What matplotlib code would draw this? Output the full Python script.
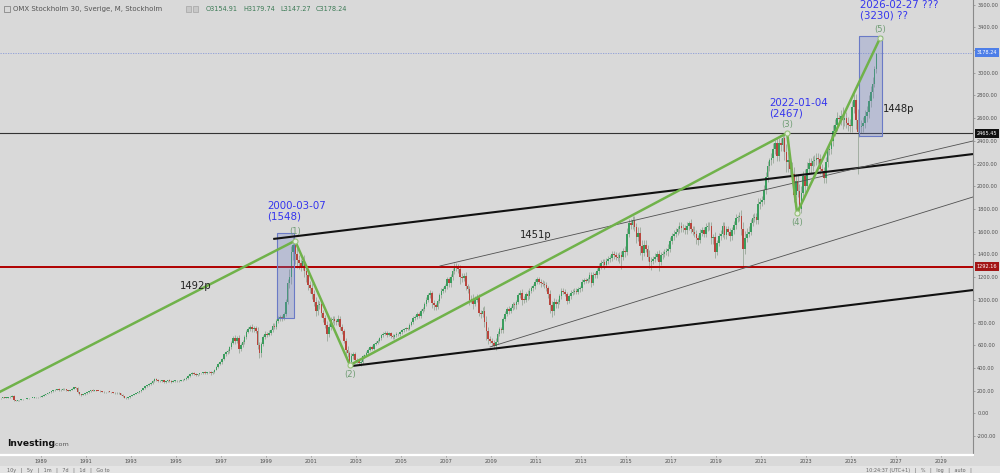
import numpy as np
import matplotlib.pyplot as plt
from matplotlib.patches import Rectangle

# === DATA (OMX Stockholm 30, monthly) ===
first_year = 1987
first_open = 125
closes = [
    128, 132, 136, 138, 137, 139, 141, 146, 156, 118, 110, 114,   # 1987
    119, 123, 126, 129, 132, 134, 136, 137, 140, 142, 144, 147,   # 1988
    156, 164, 172, 179, 186, 193, 202, 209, 214, 205, 209, 215,   # 1989
    211, 204, 199, 206, 216, 229, 224, 188, 170, 163, 168, 176,   # 1990
    186, 196, 206, 201, 205, 199, 198, 194, 190, 186, 188, 192,   # 1991
    189, 186, 181, 178, 183, 176, 164, 150, 139, 134, 142, 152,   # 1992
    161, 170, 181, 186, 196, 206, 221, 239, 246, 259, 268, 281,   # 1993
    301, 296, 281, 285, 291, 276, 281, 291, 284, 279, 286, 289,   # 1994
    285, 289, 291, 296, 301, 311, 329, 344, 354, 346, 340, 346,   # 1995
    351, 356, 361, 354, 360, 366, 351, 366, 386, 411, 431, 452,   # 1996
    481, 519, 541, 546, 582, 621, 660, 640, 664, 568, 598, 632,   # 1997
    671, 719, 741, 762, 739, 751, 729, 602, 531, 612, 671, 702,   # 1998
    691, 712, 731, 771, 762, 811, 836, 845, 842, 871, 981, 1151,  # 1999
    1201, 1421, 1480, 1401, 1352, 1321, 1302, 1341, 1251, 1221, 1131, 1102,  # 2000
    1051, 982, 901, 951, 961, 881, 841, 779, 702, 761, 821, 832,  # 2001
    811, 801, 831, 761, 721, 641, 561, 531, 452, 501, 521, 471,   # 2002
    461, 441, 452, 501, 511, 531, 561, 581, 571, 611, 621, 641,   # 2003
    661, 689, 701, 711, 691, 705, 681, 671, 689, 701, 699, 715,   # 2004
    731, 741, 749, 745, 781, 801, 839, 851, 879, 861, 899, 921,   # 2005
    961, 1001, 1041, 1059, 971, 951, 941, 991, 1041, 1081, 1091, 1121,  # 2006
    1181, 1151, 1201, 1251, 1301, 1281, 1271, 1201, 1191, 1211, 1121, 1091,  # 2007
    1001, 1011, 961, 1001, 1021, 881, 879, 901, 801, 721, 651, 641,  # 2008
    621, 591, 631, 701, 741, 731, 831, 871, 921, 901, 931, 961,   # 2009
    951, 981, 1041, 1061, 1001, 999, 1051, 1031, 1081, 1101, 1121, 1161,  # 2010
    1181, 1161, 1151, 1141, 1131, 1101, 1051, 951, 901, 981, 961, 981,  # 2011
    1031, 1081, 1071, 1051, 991, 1031, 1061, 1071, 1081, 1071, 1091, 1101,  # 2012
    1161, 1171, 1169, 1181, 1221, 1151, 1221, 1219, 1251, 1301, 1321, 1331,  # 2013
    1311, 1341, 1361, 1371, 1401, 1391, 1381, 1369, 1391, 1381, 1431, 1421,  # 2014
    1581, 1681, 1661, 1701, 1641, 1551, 1591, 1471, 1411, 1481, 1451, 1381,  # 2015
    1331, 1341, 1361, 1381, 1401, 1331, 1391, 1401, 1421, 1431, 1451, 1521,  # 2016
    1561, 1581, 1601, 1621, 1651, 1631, 1629, 1611, 1651, 1681, 1621, 1601,  # 2017
    1581, 1541, 1531, 1591, 1611, 1581, 1641, 1651, 1649, 1541, 1551, 1421,  # 2018
    1501, 1561, 1581, 1651, 1571, 1621, 1601, 1561, 1611, 1661, 1721, 1731,  # 2019
    1741, 1621, 1451, 1541, 1581, 1601, 1681, 1721, 1731, 1701, 1841, 1861,  # 2020
    1881, 1971, 2081, 2181, 2231, 2251, 2331, 2381, 2271, 2381, 2361, 2421,  # 2021
    2301, 2211, 2231, 2151, 2111, 1921, 2051, 1961, 1801, 1941, 2091, 2001,  # 2022
    2151, 2201, 2181, 2221, 2231, 2251, 2241, 2151, 2131, 2071, 2211, 2321,  # 2023
    2331, 2401, 2491, 2541, 2601, 2591, 2621, 2581, 2601, 2561, 2541, 2531,  # 2024
    2701, 2761, 2581, 2481, 2521, 2531, 2561, 2621, 2651, 2751, 2831, 2901,  # 2025
    3031, 3178,                                                   # 2026
]
# wick length above / below the body, in percent
hi_pct = [
    2, 2, 1, 2, 2, 1, 2, 3, 2, 4, 3, 2,
    2, 1, 2, 1, 2, 1, 2, 1, 2, 2, 1, 2,
    2, 2, 1, 2, 2, 1, 2, 2, 1, 3, 2, 2,
    2, 2, 2, 1, 2, 3, 3, 2, 2, 2, 2, 2,
    2, 2, 1, 3, 2, 2, 1, 2, 1, 2, 1, 2,
    2, 1, 2, 2, 1, 2, 2, 2, 3, 3, 2, 2,
    2, 2, 1, 2, 2, 1, 2, 2, 3, 2, 2, 3,
    2, 3, 2, 3, 2, 2, 2, 2, 3, 2, 2, 2,
    2, 2, 1, 2, 2, 2, 2, 1, 2, 2, 2, 1,
    2, 1, 2, 3, 2, 2, 2, 2, 1, 2, 2, 2,
    2, 3, 2, 3, 2, 2, 3, 4, 2, 4, 3, 2,
    3, 2, 3, 2, 3, 2, 3, 4, 5, 3, 3, 3,
    2, 3, 2, 3, 3, 2, 3, 2, 3, 2, 3, 3,
    6, 4, 5, 4, 4, 3, 3, 3, 4, 4, 3, 3,
    4, 3, 4, 5, 3, 4, 3, 3, 4, 4, 3, 3,
    3, 3, 4, 3, 3, 3, 4, 5, 4, 6, 4, 3,
    3, 4, 3, 3, 2, 3, 2, 2, 3, 2, 2, 2,
    2, 2, 2, 2, 2, 2, 2, 2, 2, 2, 1, 2,
    2, 2, 2, 2, 2, 2, 2, 2, 2, 2, 2, 2,
    2, 2, 2, 3, 2, 3, 2, 2, 2, 2, 2, 2,
    2, 2, 2, 2, 2, 2, 3, 3, 3, 2, 3, 2,
    3, 3, 4, 3, 3, 3, 3, 4, 5, 7, 5, 4,
    4, 4, 5, 3, 3, 3, 2, 3, 2, 3, 2, 2,
    2, 2, 2, 2, 3, 3, 2, 3, 2, 2, 2, 2,
    2, 2, 2, 2, 2, 2, 2, 3, 4, 4, 3, 3,
    2, 2, 2, 2, 2, 2, 2, 2, 2, 2, 2, 2,
    2, 2, 2, 2, 2, 2, 2, 2, 2, 2, 2, 2,
    2, 2, 2, 2, 2, 2, 2, 2, 2, 3, 2, 3,
    3, 2, 2, 2, 2, 2, 3, 3, 4, 3, 3, 2,
    4, 3, 2, 2, 2, 3, 2, 2, 2, 2, 3, 2,
    2, 2, 2, 2, 2, 2, 2, 2, 2, 1, 2, 2,
    3, 2, 2, 2, 2, 2, 2, 2, 2, 2, 2, 3,
    2, 2, 2, 2, 2, 2, 2, 2, 2, 2, 2, 1,
    2, 3, 4, 4, 3, 3, 2, 2, 2, 2, 3, 2,
    2, 2, 2, 2, 1, 2, 2, 1, 2, 2, 2, 2,
    2, 3, 3, 2, 3, 3, 3, 3, 3, 3, 2, 3,
    3, 2, 2, 2, 2, 2, 2, 2, 2, 2, 2, 2,
    2, 2, 2, 2, 2, 1, 2, 3, 2, 2, 2, 2,
    2, 2, 2, 4, 2, 2, 2, 2, 2, 2, 2, 2,
    1, 0,
]
lo_pct = [
    2, 1, 2, 1, 2, 1, 2, 2, 2, 10, 4, 3,
    2, 2, 1, 2, 1, 2, 1, 2, 1, 2, 2, 1,
    2, 1, 2, 2, 1, 2, 2, 1, 2, 3, 2, 1,
    2, 3, 2, 2, 1, 2, 3, 5, 4, 4, 3, 2,
    3, 2, 2, 2, 1, 2, 2, 2, 2, 2, 2, 2,
    2, 2, 2, 2, 2, 2, 3, 4, 5, 4, 3, 2,
    2, 2, 1, 2, 2, 2, 1, 2, 2, 2, 2, 2,
    2, 3, 3, 2, 2, 3, 2, 2, 2, 3, 2, 2,
    2, 2, 2, 2, 1, 2, 2, 2, 2, 2, 3, 2,
    2, 2, 2, 2, 2, 2, 3, 2, 2, 2, 2, 2,
    3, 2, 2, 3, 2, 2, 2, 4, 3, 6, 3, 3,
    3, 2, 2, 2, 3, 3, 3, 6, 8, 7, 3, 3,
    3, 2, 3, 2, 3, 2, 2, 3, 3, 2, 2, 2,
    4, 5, 5, 6, 5, 4, 4, 3, 4, 5, 4, 4,
    4, 4, 5, 4, 3, 4, 4, 4, 9, 4, 3, 3,
    4, 3, 3, 3, 3, 4, 8, 6, 4, 8, 4, 4,
    4, 4, 5, 3, 3, 2, 2, 2, 3, 2, 2, 2,
    2, 2, 3, 2, 3, 2, 3, 2, 2, 2, 2, 2,
    2, 2, 2, 2, 2, 2, 2, 2, 2, 2, 2, 2,
    2, 2, 2, 2, 4, 4, 3, 2, 2, 2, 2, 2,
    2, 3, 3, 2, 2, 2, 3, 5, 3, 2, 3, 3,
    5, 3, 4, 2, 2, 3, 4, 3, 5, 10, 6, 4,
    5, 4, 5, 3, 3, 3, 3, 2, 2, 3, 2, 2,
    3, 3, 2, 2, 5, 3, 2, 3, 2, 2, 2, 2,
    2, 2, 3, 2, 2, 2, 3, 7, 6, 4, 3, 3,
    2, 2, 2, 2, 3, 2, 2, 2, 2, 2, 2, 2,
    2, 2, 2, 2, 2, 3, 2, 2, 2, 2, 2, 2,
    3, 2, 2, 2, 2, 2, 2, 2, 3, 8, 2, 3,
    2, 2, 2, 2, 2, 3, 2, 5, 4, 2, 2, 3,
    4, 5, 2, 2, 2, 6, 2, 2, 2, 2, 3, 2,
    2, 2, 2, 2, 2, 2, 2, 2, 2, 2, 2, 2,
    2, 3, 3, 2, 2, 2, 2, 2, 2, 3, 3, 4,
    2, 2, 2, 2, 2, 2, 2, 3, 2, 2, 2, 2,
    2, 3, 11, 3, 2, 2, 2, 2, 2, 2, 2, 2,
    2, 2, 2, 2, 2, 2, 2, 2, 2, 2, 2, 2,
    3, 4, 4, 3, 3, 3, 2, 3, 3, 2, 2, 3,
    2, 2, 3, 2, 2, 2, 2, 2, 2, 2, 2, 2,
    2, 2, 2, 2, 2, 2, 2, 3, 2, 2, 2, 2,
    2, 2, 3, 15, 2, 2, 2, 2, 2, 2, 2, 2,
    1, 1,
]

year_ticks = list(range(1989, 2030, 2))
price_ticks = list(range(-200, 3601, 200))

# Elliott waves (date as decimal year, value)
wave_dates = [1987.18, 2000.29, 2002.73, 2022.16, 2022.60, 2026.29]
wave_values = [190, 1520, 425, 2469, 1765, 3306]
wave_labels = ['', '(1)', '(2)', '(3)', '(4)', '(5)']
wave_offsets = [0, 7, -7, 6, -7, 6]

# trend channel lines
thick_dates = [(1999.32, 2030.42), (2002.82, 2030.42)]
thick_values = [(1536, 2284), (417, 1086)]
thin_dates = [(2006.73, 2030.42), (2008.96, 2030.42)]
thin_values = [(1298, 2399), (585, 1906)]

last_price = 3178.24
level_dark = 2465.45
level_red = 1292.16

box_dates = [(1999.49, 2000.24), (2025.36, 2026.38)]
box_values = [(840, 1589), (2443, 3324)]

# === LAYOUT ===
W, H = 1000, 473
BG = '#d9d9d9'
X0, X1 = 1987.178, 2030.42
Y0, Y1 = -367, 3641


def fx(px):
    return px / W


def fy(py):
    return 1 - py / H


assert len(closes) == len(hi_pct) == len(lo_pct)
n = len(closes)
t = first_year + (np.arange(n) + 0.5) / 12
c = np.array(closes, dtype=float)
o = np.concatenate([[first_open], c[:-1]])
top = np.maximum(o, c) * (1 + np.array(hi_pct) / 100)
bot = np.minimum(o, c) * (1 - np.array(lo_pct) / 100)

fig = plt.figure(figsize=(W / 100, H / 100), dpi=100, facecolor=BG)
ax = fig.add_axes([0, 18 / H, 973 / W, 455 / H])
ax.set_facecolor(BG)

# === CANDLES ===
up = c >= o
cols = np.where(up, '#3a9d5d', '#b8453d')
ax.vlines(t, bot, top, color='#a2aea2', lw=0.7, zorder=2)
ax.bar(t, np.maximum(np.abs(c - o), 4), bottom=np.minimum(o, c), width=0.072,
       color=cols, lw=0, zorder=3)

# === LEVELS ===
ax.axhline(level_dark, color='#333333', lw=0.8, zorder=4)
ax.axhline(level_red, color='#b00000', lw=1.4, zorder=4)
ax.axhline(last_price, color='#8a9ad8', lw=0.6, ls=(0, (1.5, 1.5)), zorder=4)

# === BOXES ===
for (d0, d1), (v0, v1) in zip(box_dates, box_values):
    ax.add_patch(Rectangle((d0, v0), d1 - d0, v1 - v0, fc='#7080c8', alpha=0.3,
                           ec='none', zorder=4))
    ax.add_patch(Rectangle((d0, v0), d1 - d0, v1 - v0, fc='none', ec='#6a7ac6',
                           lw=0.8, zorder=4))

# === CHANNELS ===
for d, v in zip(thick_dates, thick_values):
    ax.plot(d, v, color='#111111', lw=1.5, zorder=5, solid_capstyle='butt')
for d, v in zip(thin_dates, thin_values):
    ax.plot(d, v, color='#505050', lw=0.6, zorder=5)

# === WAVES ===
ax.plot(wave_dates, wave_values, color='#70b24a', lw=1.8, zorder=6)
ax.plot(wave_dates[1:], wave_values[1:], 'o', ms=3.6, mfc='#e4ecdc',
        mec='#98c27a', mew=0.8, zorder=7)
for d, v, lab, off in zip(wave_dates, wave_values, wave_labels, wave_offsets):
    if lab:
        ax.annotate(lab, (d, v), xytext=(0, off), textcoords='offset points',
                    ha='center', va='center', fontsize=6, color='#6e9c72', zorder=7)

# === AXES ===
ax.set_xlim(X0, X1)
ax.set_ylim(Y0, Y1)
for s in ['top', 'left']:
    ax.spines[s].set_visible(False)
ax.spines['bottom'].set_color('white')
ax.spines['bottom'].set_linewidth(1.6)
ax.spines['right'].set_color('#8a8a8a')
ax.spines['right'].set_linewidth(0.8)
ax.yaxis.tick_right()
ax.set_yticks(price_ticks)
ax.set_yticklabels([f'{v:.2f}' for v in price_ticks])
ax.set_xticks(year_ticks)
ax.set_xticklabels([str(y) for y in year_ticks])
ax.tick_params(axis='y', length=1.5, width=0.5, color='#888888', labelsize=3.6,
               labelcolor='#505050', pad=1.5)
ax.tick_params(axis='x', length=1.5, width=0.5, color='#888888', labelsize=3.6,
               labelcolor='#505050', pad=1.5)

# === PRICE TAGS ===
for val, bg in [(last_price, '#4d7ee8'), (level_dark, '#111111'), (level_red, '#a31515')]:
    ax.text(1.004, val, f'{val:.2f}', transform=ax.get_yaxis_transform(),
            ha='left', va='center', fontsize=3.6, color='white', zorder=10,
            clip_on=False,
            bbox=dict(boxstyle='square,pad=0.35', fc=bg, ec='none'))

# === TEXTS ===
blue = '#3535ee'
fig.text(fx(267), fy(206), '2000-03-07', color=blue, fontsize=7.4, va='center')
fig.text(fx(267), fy(216), '(1548)', color=blue, fontsize=7.4, va='center')
fig.text(fx(769), fy(103), '2022-01-04', color=blue, fontsize=7.4, va='center')
fig.text(fx(769), fy(113), '(2467)', color=blue, fontsize=7.4, va='center')
fig.text(fx(860), fy(5), '2026-02-27 ???', color=blue, fontsize=7.4, va='center')
fig.text(fx(860), fy(16), '(3230) ??', color=blue, fontsize=7.4, va='center')
fig.text(fx(180), fy(286), '1492p', color='#222222', fontsize=7.2, va='center')
fig.text(fx(520), fy(235), '1451p', color='#222222', fontsize=7.2, va='center')
fig.text(fx(883), fy(109), '1448p', color='#222222', fontsize=7.2, va='center')

# header
fig.patches.append(Rectangle((fx(4), fy(12)), 6 / W, 6 / H, fill=False, ec='#777777',
                             lw=0.5, transform=fig.transFigure))
fig.text(fx(13), fy(9), 'OMX Stockholm 30, Sverige, M, Stockholm', fontsize=5,
         color='#555555', va='center')
for px in (186, 193):
    fig.patches.append(Rectangle((fx(px), fy(12)), 5 / W, 6 / H, fc='#c8c8c8',
                                 ec='#9a9a9a', lw=0.4, transform=fig.transFigure))
for px, s in [(206, 'O3154.91'), (243, 'H3179.74'), (280, 'L3147.27'), (316, 'C3178.24')]:
    fig.text(fx(px), fy(9), s, fontsize=4.7, color='#3b7a55', va='center')

# logo
fig.text(fx(7), fy(443), 'Investing', fontsize=6.6, fontweight='bold',
         color='#111111', va='center')
fig.text(fx(53), fy(444.5), '.com', fontsize=4.6, color='#555555', va='center')

# toolbar strip
fig.patches.append(Rectangle((0, 0), 1, 7 / H, fc='#e4e4e4', ec='none',
                             transform=fig.transFigure, zorder=-1))
fig.text(fx(7), fy(470), '10y   |   5y   |   1m   |   7d   |   1d   |   Go to',
         fontsize=3.5, color='#666666', va='center')
fig.text(fx(866), fy(470), '10:24:37 (UTC+1)   |   %   |   log   |   auto   |',
         fontsize=3.5, color='#666666', va='center')

fig.savefig('out.png', dpi=100, facecolor=BG)
